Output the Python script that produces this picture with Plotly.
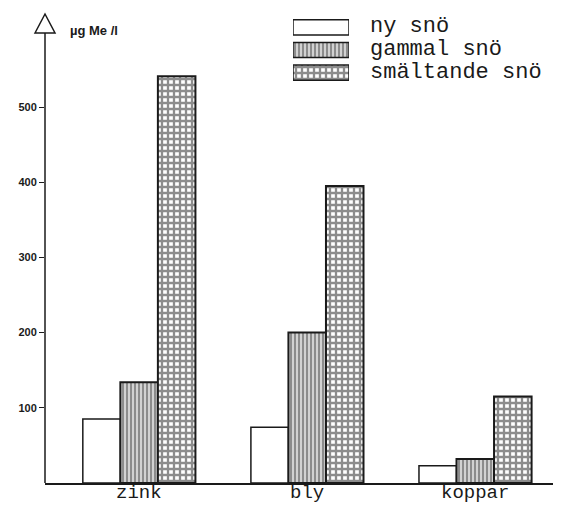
import plotly.graph_objects as go

# values (µg Me/l)
metals = ["zink", "bly", "koppar"]
series_names = ["ny snö", "gammal snö", "smältande snö"]
ny_sno = [85, 74, 23]
gammal_sno = [134, 200, 32]
smaltande_sno = [541, 395, 115]
y_ticks = [100, 200, 300, 400, 500]

INK = "#1a1a1a"
MONO = "Liberation Mono, Courier New, monospace"
SANS = "Liberation Sans, Arial, sans-serif"

# the page body adds an 8px margin, so the figure is 8px smaller than the window
# plot area (window pixels): x 45..561, y 10..483
PW, PH = 516, 473


def px(x):
    return (x - 45) / PW


def py(y):
    return (483 - y) / PH


styles = {
    "ny snö": dict(color="white", line=dict(color=INK, width=1.5)),
    "gammal snö": dict(color="white", line=dict(color=INK, width=2),
                       pattern=dict(shape="|", size=4, solidity=0.7, fgcolor=INK, bgcolor="white")),
    "smältande snö": dict(color="white", line=dict(color=INK, width=2),
                          pattern=dict(shape="+", size=6, solidity=0.62, fgcolor=INK, bgcolor="white")),
}

fig = go.Figure()
for name, vals in zip(series_names, [ny_sno, gammal_sno, smaltande_sno]):
    fig.add_trace(go.Bar(x=metals, y=vals, name=name, marker=styles[name],
                         showlegend=False))

# legend swatches drawn as a tiny inset bar chart
fig.add_trace(go.Bar(
    x=[1, 1, 1], y=series_names, orientation="h",
    xaxis="x2", yaxis="y2", showlegend=False,
    marker=dict(
        color="white",
        line=dict(color=INK, width=1.5),
        pattern=dict(shape=["", "|", "+"], size=[6, 4, 6], solidity=[0.3, 0.7, 0.62],
                     fgcolor=INK, bgcolor="white"),
    ),
))

fig.update_layout(
    width=553, height=498,
    margin=dict(l=37, r=0, t=2, b=23, autoexpand=False),
    plot_bgcolor="white", paper_bgcolor="white",
    barmode="group", bargap=0.33, bargroupgap=0,
    xaxis=dict(range=[-0.56, 2.51], showline=True, linecolor=INK, linewidth=1.5,
               ticks="", showgrid=False, zeroline=False, showticklabels=False,
               automargin=False),
    yaxis=dict(range=[0, 629], tickvals=y_ticks, ticks="outside", ticklen=5,
               tickcolor=INK, showline=False, showgrid=False, zeroline=False,
               automargin=False,
               tickfont=dict(family=SANS, size=11, color=INK, weight="bold")),
    xaxis2=dict(domain=[px(293), px(349)], anchor="y2", range=[0, 1], visible=False),
    yaxis2=dict(domain=[py(84), py(16)], anchor="x2", autorange="reversed",
                showline=False, showgrid=False, zeroline=False, ticks="",
                showticklabels=False, automargin=False),
)

# legend text
for name, yy in zip(series_names, [27, 50, 73]):
    fig.add_annotation(text=name, xref="paper", yref="paper", x=px(368), y=py(yy),
                       xanchor="left", yanchor="middle", showarrow=False,
                       font=dict(family=MONO, size=22, color=INK))

# category labels under the axis
for m in metals:
    fig.add_annotation(text=m, xref="x", yref="paper", x=m, y=py(493),
                       xanchor="center", yanchor="middle", showarrow=False, borderpad=0,
                       font=dict(family=MONO, size=19, color=INK))

# y axis line with open arrow head
fig.add_shape(type="line", xref="paper", yref="paper", x0=0, x1=0, y0=0, y1=py(33),
              line=dict(color=INK, width=1.5))
fig.add_shape(type="path", xref="paper", yref="paper",
              path="M %f,%f L %f,%f L %f,%f Z" % (
                  px(35), py(33), px(45), py(14), px(55), py(33)),
              line=dict(color=INK, width=1.5), fillcolor="white")

fig.add_annotation(text="µg Me /l", xref="paper", yref="paper",
                   x=px(68), y=py(30), xanchor="left", yanchor="middle",
                   showarrow=False, font=dict(family=SANS, size=13, color=INK, weight="bold"))

fig.write_html("out.html")
